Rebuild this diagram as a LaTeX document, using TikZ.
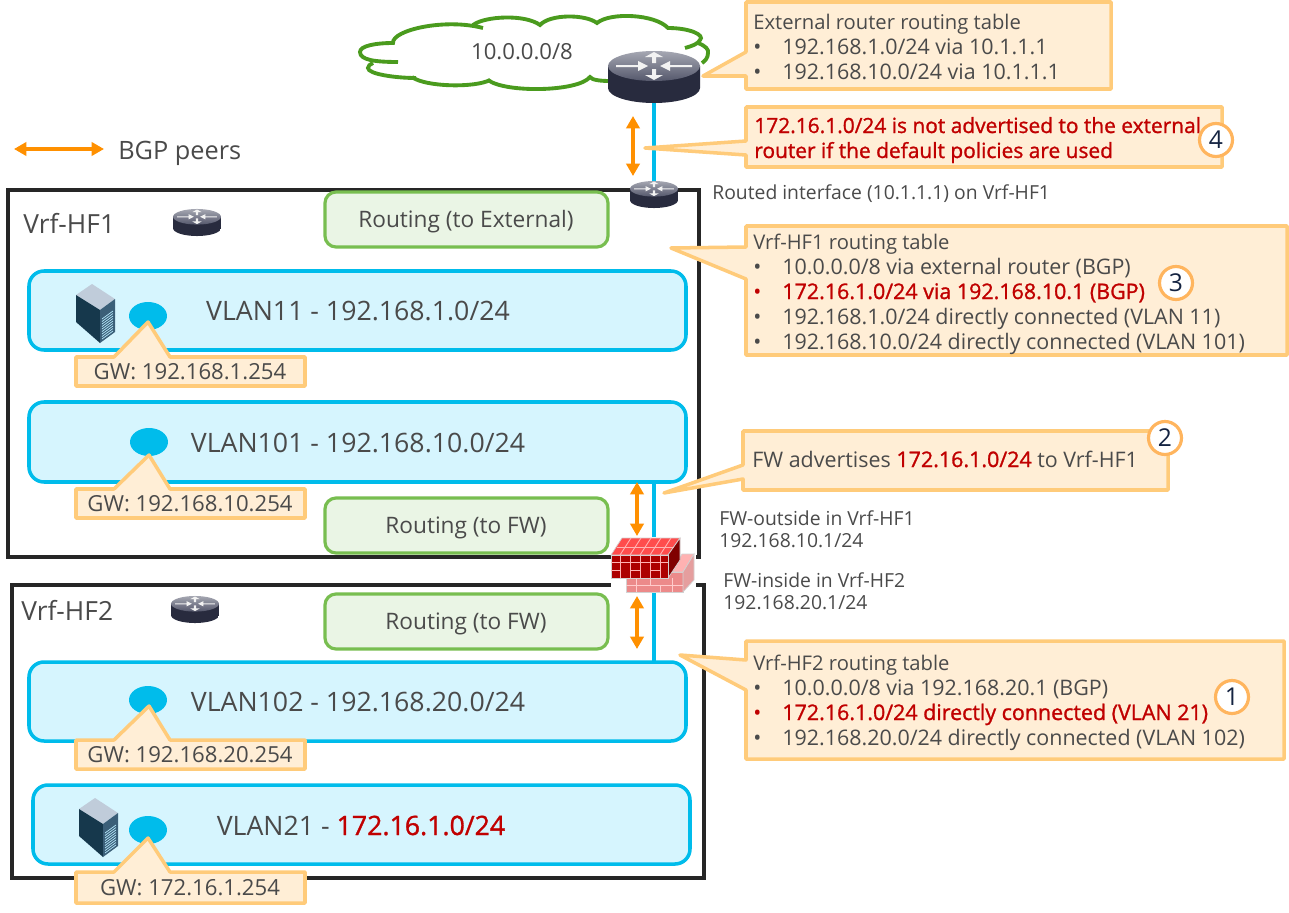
\documentclass[tikz,border=0pt]{standalone}
\usepackage{fontspec}
\setmainfont{Open Sans}
\newfontfamily\medfont[FakeBold=1.2]{Open Sans}
\usetikzlibrary{arrows.meta,shapes.geometric}
\definecolor{txtgray}{RGB}{74,74,74}
\definecolor{fwred}{RGB}{192,0,0}
\definecolor{vrfblack}{RGB}{38,38,38}
\definecolor{vlanfill}{RGB}{214,245,254}
\definecolor{vlanline}{RGB}{0,188,235}
\definecolor{routefill}{RGB}{234,245,229}
\definecolor{routeline}{RGB}{120,190,80}
\definecolor{notefill}{RGB}{255,238,214}
\definecolor{noteline}{RGB}{255,203,122}
\definecolor{stepline}{RGB}{255,181,94}
\definecolor{peerline}{RGB}{255,144,0}
\definecolor{cloudline}{RGB}{74,155,30}
\definecolor{routerdark}{RGB}{40,43,62}
\definecolor{routermid}{RGB}{98,102,138}
\definecolor{routertop}{RGB}{165,167,178}
\definecolor{routerlow}{RGB}{85,88,108}
\definecolor{serverleft}{RGB}{22,56,76}
\definecolor{serverright}{RGB}{59,95,120}
\definecolor{servertop}{RGB}{192,204,218}
\definecolor{steptext}{RGB}{20,35,65}
\newcommand{\redtxt}[1]{{\medfont\color{fwred}#1}}
\tikzset{
  vrfbox/.style={draw=vrfblack, line width=2pt},
  vlanbox/.style={draw=vlanline, fill=vlanfill, line width=2pt, rounded corners=0.3cm},
  routebox/.style={draw=routeline, fill=routefill, line width=1.8pt, rounded corners=0.22cm},
  notebox/.style={draw=noteline, fill=notefill, line width=2pt, line join=round},
  peerarrow/.style={draw=peerline, line width=2pt, {Triangle[width=7.5pt,length=7pt]}-{Triangle[width=7.5pt,length=7pt]}},
  vlanlink/.style={draw=vlanline, line width=1.8pt},
  cloudedge/.style={draw=cloudline, line width=2.2pt},
  gwdot/.style={ellipse, fill=vlanline, minimum width=0.76cm, minimum height=0.56cm, inner sep=0pt},
  anchorbox/.style={inner sep=0pt, minimum width=#1*1.86cm, minimum height=#1*1.04cm},
  vrftext/.style={text=txtgray, font=\fontsize{15}{17}\selectfont, anchor=base west, inner sep=0pt},
  vlantext/.style={text=txtgray, font=\fontsize{15.2}{17}\selectfont, anchor=base, inner sep=0pt},
  tabletext/.style={text=txtgray, font=\fontsize{12.2}{14}\selectfont, anchor=base west, inner sep=0pt},
  titletext/.style={tabletext, font=\fontsize{11.5}{14}\selectfont},
  smalltext/.style={text=txtgray, font=\fontsize{11}{13}\selectfont, anchor=base west, inner sep=0pt},
  gwtext/.style={text=txtgray, font=\fontsize{12.6}{15}\selectfont, inner sep=0pt},
  routetext/.style={gwtext, font=\fontsize{12.9}{15}\selectfont},
  stepmark/.style={circle, draw=stepline, fill=white, line width=1.8pt, minimum size=0.66cm, inner sep=0pt,
    text=steptext, font=\fontsize{14}{16}\selectfont},
  routerpic/.pic={
    \shade[left color=routerdark, middle color=routermid, right color=routerdark]
      (-46,-11) -- (-46,11) arc[start angle=180, end angle=0, x radius=46, y radius=15] -- (46,-11) -- cycle;
    \shade[top color=routertop, bottom color=routerlow] (0,-11) ellipse[x radius=46, y radius=15];
    \fill[white!90!gray] (-38,-12) -- (-16,-12) -- (-16,-16) -- (-6,-11) -- (-16,-6) -- (-16,-10) -- (-38,-10) -- cycle;
    \fill[white!90!gray] (38,-12) -- (16,-12) -- (16,-16) -- (6,-11) -- (16,-6) -- (16,-10) -- (38,-10) -- cycle;
    \fill[white!90!gray] (0,-25) -- (9,-20) -- (2,-20) -- (2,-14) -- (-2,-14) -- (-2,-20) -- (-9,-20) -- cycle;
    \fill[white!90!gray] (0,3) -- (9,-2) -- (2,-2) -- (2,-8) -- (-2,-8) -- (-2,-2) -- (-9,-2) -- cycle;
  },
  serverpic/.pic={
    \fill[servertop] (0,11) -- (16,0) -- (39,15) -- (24,26) -- cycle;
    \fill[serverleft] (0,11) -- (24,26) -- (24,59) -- (0,38) -- cycle;
    \fill[serverright] (24,26) -- (39,15) -- (39,48) -- (24,59) -- cycle;
    \foreach \s in {0,...,8} {
      \draw[white!70!cyan, line width=0.4pt] (26,35+\s*2.5) -- (37,27+\s*2.5);
    }
  }
}
\begin{document}
\begin{tikzpicture}[x=0.02cm, y=-0.02cm]
  \useasboundingbox (0,0) rectangle (1289,913);
  \fill[white] (0,0) rectangle (1289,913);

  \draw[vrfbox] (8,190) rectangle (699,557);
  \draw[vrfbox] (12,585) rectangle (704,878);

  \coordinate (fwtop) at (654,482);
  \coordinate (fwbottom) at (654,662);
  \draw[vlanlink] (fwtop) -- (fwbottom);

  \draw[routebox] (325,192) rectangle (608,247);
  \draw[routebox] (325,498) rectangle (608,553);
  \draw[routebox] (325,594) rectangle (608,649);
  \node[routetext] (routeext) at (466,222) {Routing (to External)};
  \node[routetext] (routefwa) at (466,528) {Routing (to FW)};
  \node[routetext] (routefwb) at (466,624) {Routing (to FW)};

  \draw[vlanbox] (29,271) rectangle (686,350);
  \draw[vlanbox] (29,402) rectangle (686,482);
  \draw[vlanbox] (29,662) rectangle (686,741);
  \draw[vlanbox] (33,785) rectangle (690,864);
  \node[vlantext] (vlan11) at (358,320) {VLAN11 - 192.168.1.0/24};
  \node[vlantext] (vlan101) at (358,452) {VLAN101 - 192.168.10.0/24};
  \node[vlantext] (vlan102) at (358,711) {VLAN102 - 192.168.20.0/24};
  \node[vlantext] (vlan21) at (361,835) {VLAN21 - \redtxt{172.16.1.0/24}};

  \node[vrftext] (vrfa) at (23,233) {Vrf-HF1};
  \node[vrftext] (vrfb) at (21,620) {Vrf-HF2};
  \node[vrftext, font=\fontsize{14.4}{17}\selectfont] (peers) at (118,159) {BGP peers};

  % routers
  \node[anchorbox=1] (extrouter) at (654,77) {};
  \node[anchorbox=0.52] (edgerouter) at (654,194.5) {};
  \draw[vlanlink] (extrouter.south) -- (edgerouter.north);
  \draw[cloudedge]
    (398,62) .. controls (375,62) and (360,60) .. (360,52) .. controls (360,46) and (375,43) .. (393,43)
    .. controls (392,30) and (445,18) .. (483,28);
  \draw[cloudedge] (473,25) .. controls (485,16) and (525,14) .. (540,25)
    .. controls (550,14) and (585,14) .. (597,23) .. controls (610,12) and (655,14) .. (668,28)
    .. controls (690,28) and (705,35) .. (700,40) .. controls (698,44) and (692,46) .. (685,48);
  \draw[cloudedge] (698,43) .. controls (706,46) and (709,50) .. (708,53)
    .. controls (708,58) and (705,61) .. (702,63);
  \draw[cloudedge] (610,81) .. controls (600,81) and (592,80) .. (590,77)
    .. controls (578,92) and (505,93) .. (488,80);
  \draw[cloudedge] (490,80) .. controls (475,88) and (425,87) .. (412,77);
  \draw[cloudedge] (416,78) .. controls (395,78) and (368,74) .. (368,68) .. controls (368,66) and (370,64) .. (373,63);
  \node[gwtext] (cloudnet) at (522,52) {10.0.0.0/8};
  \pic at (extrouter) {routerpic};
  \pic[scale=0.52] at (edgerouter) {routerpic};
  \pic[scale=0.52] at (197,222.5) {routerpic};
  \pic[scale=0.52] at (195,609.5) {routerpic};

  % servers
  \pic at (76,284) {serverpic};
  \pic at (79,798) {serverpic};

  \node[gwdot] (gwa) at (148,316) {};
  \node[gwdot] (gwb) at (149,442) {};
  \node[gwdot] (gwc) at (148,700) {};
  \node[gwdot] (gwd) at (148,830) {};

  % bgp peers
  \coordinate (peerleft) at (14,149);
  \coordinate (peerright) at (104,149);
  \draw[peerarrow] (peerleft) -- (peerright);
  \coordinate (peeraa) at (633,116);
  \coordinate (peerab) at (633,176);
  \draw[peerarrow] (peeraa) -- (peerab);
  \coordinate (peerba) at (637,482);
  \coordinate (peerbb) at (637,536);
  \draw[peerarrow] (peerba) -- (peerbb);
  \coordinate (peerca) at (637,596);
  \coordinate (peercb) at (637,649);
  \draw[peerarrow] (peerca) -- (peercb);

  % firewall
  \fill[white] (611,537) rectangle (696,593);
  \fill[red!45!white!85!gray, draw=gray!35] (626,572) -- (683,572) -- (683,592) -- (626,592) -- cycle;
  \fill[red!30!white, draw=gray!35] (672,572) -- (682,554) -- (694,554) -- (683,572) -- cycle;
  \fill[red!35!white!80!gray, draw=gray!35] (683,572) -- (694,554) -- (694,580) -- (683,592) -- cycle;
  \draw[white!80!red, line width=0.5pt] (626,585) -- (683,585) (636,578) -- (636,592) (650,578) -- (650,585) (660,585) -- (660,592) (672,578) -- (672,592);
  \fill[red!70!white, draw=gray!35] (611,555) -- (622,538) -- (680,538) -- (668,555) -- cycle;
  \fill[red!50!black, draw=gray!35] (668,555) -- (680,538) -- (680,560) -- (668,578) -- cycle;
  \fill[red!68!black, draw=gray!35] (611,555) rectangle (668,578);
  \foreach \wx in {620,630,640,650,660} {
    \draw[white!70!red, line width=0.5pt] (\wx,555) -- (\wx,578);
    \draw[white!70!red, line width=0.5pt] (\wx,555) -- (\wx+11,538);
  }
  \draw[white!70!red, line width=0.5pt] (611,562) -- (668,562) (611,570) -- (620,570) (630,570) -- (640,570) (650,570) -- (660,570);
  \draw[white!70!red, line width=0.5pt] (617,547) -- (674,547);

  % notes
  \draw[notebox] (746,2) -- (1111,2) -- (1111,89) -- (746,89) -- (746,76) -- (703,76) -- (746,52) -- cycle;
  \draw[notebox] (746,107) -- (1222,107) -- (1222,167) -- (746,167) -- (746,155) -- (645,148) -- (746,141) -- cycle;
  \draw[notebox] (746,226) -- (1287,226) -- (1287,355) -- (746,355) -- (746,279) -- (671,248) -- (746,247) -- cycle;
  \draw[notebox] (743,431) -- (1168,431) -- (1168,490) -- (743,490) -- (743,479) -- (664,493) -- (743,465) -- cycle;
  \draw[notebox] (746,641) -- (1284,641) -- (1284,759) -- (746,759) -- (746,690) -- (680,655) -- (746,660) -- cycle;

  \draw[notebox] (76,357) -- (114,357) -- (148,322) -- (170,357) -- (305,357) -- (305,386) -- (76,386) -- cycle;
  \draw[notebox] (76,489) -- (114,489) -- (149,455) -- (170,489) -- (305,489) -- (305,518) -- (76,518) -- cycle;
  \draw[notebox] (76,740) -- (114,740) -- (149,706) -- (170,740) -- (305,740) -- (305,769) -- (76,769) -- cycle;
  \draw[notebox] (76,872) -- (114,872) -- (148,838) -- (170,872) -- (305,872) -- (305,903) -- (76,903) -- cycle;
  \node[gwtext] (gwtexta) at (190,372) {GW: 192.168.1.254};
  \node[gwtext] (gwtextb) at (190,504) {GW: 192.168.10.254};
  \node[gwtext] (gwtextc) at (190,755) {GW: 192.168.20.254};
  \node[gwtext] (gwtextd) at (190,888) {GW: 172.16.1.254};

  \node[titletext] (exttitle) at (753,29) {External router routing table};
  \node[tabletext] (extbula) at (753,54) {•};
  \node[tabletext] (extlinea) at (782,54) {192.168.1.0/24 via 10.1.1.1};
  \node[tabletext] (extbulb) at (753,79) {•};
  \node[tabletext] (extlineb) at (782,79) {192.168.10.0/24 via 10.1.1.1};

  \node[tabletext, font=\fontsize{11.9}{14}\selectfont] (warna) at (754,133) {\redtxt{172.16.1.0/24 is not advertised to the external}};
  \node[tabletext, font=\fontsize{11.9}{14}\selectfont] (warnb) at (754,158) {\redtxt{router if the default policies are used}};

  \node[smalltext] (routedif) at (712,199) {Routed interface (10.1.1.1) on Vrf-HF1};

  \node[titletext] (hfatitle) at (753,249) {Vrf-HF1 routing table};
  \node[tabletext] (hfabula) at (753,274) {•};
  \node[tabletext] (hfalinea) at (782,274) {10.0.0.0/8 via external router (BGP)};
  \node[tabletext] (hfabulb) at (753,299) {\color{fwred}•};
  \node[tabletext] (hfalineb) at (782,299) {\redtxt{172.16.1.0/24 via 192.168.10.1 (BGP)}};
  \node[tabletext] (hfabulc) at (753,324) {•};
  \node[tabletext] (hfalinec) at (782,324) {192.168.1.0/24 directly connected (VLAN 11)};
  \node[tabletext] (hfabuld) at (753,349) {•};
  \node[tabletext] (hfalined) at (782,349) {192.168.10.0/24 directly connected (VLAN 101)};

  \node[tabletext] (fwnote) at (752,467) {FW advertises \redtxt{172.16.1.0/24} to Vrf-HF1};

  \node[smalltext] (fwouta) at (719,525) {FW-outside in Vrf-HF1};
  \node[smalltext] (fwoutb) at (719,547) {192.168.10.1/24};
  \node[smalltext] (fwina) at (723,587) {FW-inside in Vrf-HF2};
  \node[smalltext] (fwinb) at (723,609) {192.168.20.1/24};

  \node[titletext] (hfbtitle) at (753,670) {Vrf-HF2 routing table};
  \node[tabletext] (hfbbula) at (753,695) {•};
  \node[tabletext] (hfblinea) at (782,695) {10.0.0.0/8 via 192.168.20.1 (BGP)};
  \node[tabletext] (hfbbulb) at (753,720) {\color{fwred}•};
  \node[tabletext] (hfblineb) at (782,720) {\redtxt{172.16.1.0/24 directly connected (VLAN 21)}};
  \node[tabletext] (hfbbulc) at (753,745) {•};
  \node[tabletext] (hfblinec) at (782,745) {192.168.20.0/24 directly connected (VLAN 102)};

  \node[stepmark] (stepd) at (1216,140) {4};
  \node[stepmark] (stepc) at (1176,283) {3};
  \node[stepmark] (stepb) at (1165,438) {2};
  \node[stepmark] (stepa) at (1232,697) {1};
\end{tikzpicture}
\end{document}
